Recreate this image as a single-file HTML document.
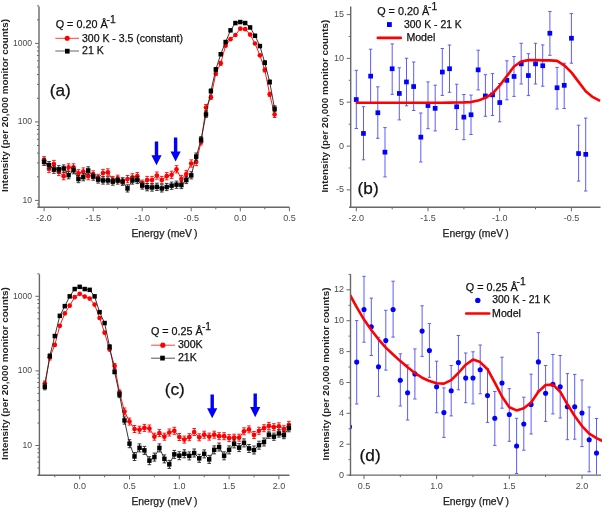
<!DOCTYPE html><html><head><meta charset="utf-8"><style>html,body{margin:0;padding:0;background:#fff;}svg{display:block;will-change:transform;}text{font-family:"Liberation Sans", sans-serif;}</style></head><body>
<svg width="602" height="508" viewBox="0 0 602 508">
<rect width="602" height="508" fill="#fff"/>
<path d="M39,6.5 V208" fill="none" stroke="#686868" stroke-width="1.4"/>
<path d="M37.4,207.3 H289.5" fill="none" stroke="#686868" stroke-width="1.4"/>
<line x1="37" y1="204" x2="39" y2="204" stroke="#686868" stroke-width="1"/>
<line x1="35" y1="200.4" x2="39" y2="200.4" stroke="#686868" stroke-width="1"/>
<line x1="37" y1="176.8" x2="39" y2="176.8" stroke="#686868" stroke-width="1"/>
<line x1="37" y1="162.9" x2="39" y2="162.9" stroke="#686868" stroke-width="1"/>
<line x1="37" y1="153.1" x2="39" y2="153.1" stroke="#686868" stroke-width="1"/>
<line x1="37" y1="145.5" x2="39" y2="145.5" stroke="#686868" stroke-width="1"/>
<line x1="37" y1="139.3" x2="39" y2="139.3" stroke="#686868" stroke-width="1"/>
<line x1="37" y1="134.1" x2="39" y2="134.1" stroke="#686868" stroke-width="1"/>
<line x1="37" y1="129.5" x2="39" y2="129.5" stroke="#686868" stroke-width="1"/>
<line x1="37" y1="125.5" x2="39" y2="125.5" stroke="#686868" stroke-width="1"/>
<line x1="35" y1="121.9" x2="39" y2="121.9" stroke="#686868" stroke-width="1"/>
<line x1="37" y1="98.3" x2="39" y2="98.3" stroke="#686868" stroke-width="1"/>
<line x1="37" y1="84.4" x2="39" y2="84.4" stroke="#686868" stroke-width="1"/>
<line x1="37" y1="74.6" x2="39" y2="74.6" stroke="#686868" stroke-width="1"/>
<line x1="37" y1="67" x2="39" y2="67" stroke="#686868" stroke-width="1"/>
<line x1="37" y1="60.8" x2="39" y2="60.8" stroke="#686868" stroke-width="1"/>
<line x1="37" y1="55.6" x2="39" y2="55.6" stroke="#686868" stroke-width="1"/>
<line x1="37" y1="51" x2="39" y2="51" stroke="#686868" stroke-width="1"/>
<line x1="37" y1="47" x2="39" y2="47" stroke="#686868" stroke-width="1"/>
<line x1="35" y1="43.4" x2="39" y2="43.4" stroke="#686868" stroke-width="1"/>
<line x1="37" y1="19.8" x2="39" y2="19.8" stroke="#686868" stroke-width="1"/>
<line x1="37" y1="5.9" x2="39" y2="5.9" stroke="#686868" stroke-width="1"/>
<line x1="44.1" y1="207.3" x2="44.1" y2="211.3" stroke="#686868" stroke-width="1"/>
<line x1="68.6" y1="207.3" x2="68.6" y2="209.3" stroke="#686868" stroke-width="1"/>
<line x1="93.2" y1="207.3" x2="93.2" y2="211.3" stroke="#686868" stroke-width="1"/>
<line x1="117.7" y1="207.3" x2="117.7" y2="209.3" stroke="#686868" stroke-width="1"/>
<line x1="142.2" y1="207.3" x2="142.2" y2="211.3" stroke="#686868" stroke-width="1"/>
<line x1="166.7" y1="207.3" x2="166.7" y2="209.3" stroke="#686868" stroke-width="1"/>
<line x1="191.2" y1="207.3" x2="191.2" y2="211.3" stroke="#686868" stroke-width="1"/>
<line x1="215.8" y1="207.3" x2="215.8" y2="209.3" stroke="#686868" stroke-width="1"/>
<line x1="240.3" y1="207.3" x2="240.3" y2="211.3" stroke="#686868" stroke-width="1"/>
<line x1="264.8" y1="207.3" x2="264.8" y2="209.3" stroke="#686868" stroke-width="1"/>
<line x1="289.4" y1="207.3" x2="289.4" y2="211.3" stroke="#686868" stroke-width="1"/>
<text x="32" y="202.6" font-size="8.6" text-anchor="end" fill="#4a4a4a" font-weight="normal" >10</text>
<text x="32" y="124.1" font-size="8.6" text-anchor="end" fill="#4a4a4a" font-weight="normal" >100</text>
<text x="32" y="45.6" font-size="8.6" text-anchor="end" fill="#4a4a4a" font-weight="normal" >1000</text>
<text x="44.1" y="221" font-size="9" text-anchor="middle" fill="#4a4a4a" font-weight="normal" >-2.0</text>
<text x="93.2" y="221" font-size="9" text-anchor="middle" fill="#4a4a4a" font-weight="normal" >-1.5</text>
<text x="142.2" y="221" font-size="9" text-anchor="middle" fill="#4a4a4a" font-weight="normal" >-1.0</text>
<text x="191.2" y="221" font-size="9" text-anchor="middle" fill="#4a4a4a" font-weight="normal" >-0.5</text>
<text x="240.3" y="221" font-size="9" text-anchor="middle" fill="#4a4a4a" font-weight="normal" >0.0</text>
<text x="289.4" y="221" font-size="9" text-anchor="middle" fill="#4a4a4a" font-weight="normal" >0.5</text>
<text x="164.5" y="237" font-size="10.4" text-anchor="middle" fill="#222" font-weight="normal" stroke="#222" stroke-width="0.25" >Energy (meV&#8201;)</text>
<text x="0" y="0" font-size="9.9" text-anchor="middle" fill="#222" font-weight="bold" transform="translate(8.3,105.5) rotate(-90)">Intensity (per 20,000 monitor counts)</text>
<polyline points="44.1,160.2 49,169 53.9,164 58.8,172 63.7,176.2 68.6,167.4 73.5,167.4 78.4,173.3 83.3,171.5 88.2,176.2 93.2,174.4 98.1,177.9 103,173 107.9,172.4 112.8,180 117.7,178.8 122.6,181.4 127.5,179.1 132.4,177.3 137.3,176.2 142.2,183.7 147.1,180 152,180 156.9,175.6 161.8,180 166.7,176.2 171.6,174.8 176.5,169.3 181.4,179 186.3,174 191.2,163.5 196.2,162 201.1,142 206,107.5 210.9,97.3 215.8,73.5 220.7,63.3 225.6,45.7 230.5,39.2 235.4,35 240.3,28.7 245.2,29.2 250.1,34.6 255,43.5 259.9,55.3 264.8,70 269.7,94.3 274.6,114.5" fill="none" stroke="#ff0000" stroke-width="0.9"/>
<path d="M44.1,156.6 V163.8 M42.3,156.6 H45.9 M42.3,163.8 H45.9" stroke="#ff0000" stroke-width="0.9" fill="none"/>
<path d="M49,165.4 V172.6 M47.2,165.4 H50.8 M47.2,172.6 H50.8" stroke="#ff0000" stroke-width="0.9" fill="none"/>
<path d="M53.9,160.4 V167.6 M52.1,160.4 H55.7 M52.1,167.6 H55.7" stroke="#ff0000" stroke-width="0.9" fill="none"/>
<path d="M58.8,168.4 V175.6 M57,168.4 H60.6 M57,175.6 H60.6" stroke="#ff0000" stroke-width="0.9" fill="none"/>
<path d="M63.7,172.6 V179.8 M61.9,172.6 H65.5 M61.9,179.8 H65.5" stroke="#ff0000" stroke-width="0.9" fill="none"/>
<path d="M68.6,163.8 V171 M66.8,163.8 H70.4 M66.8,171 H70.4" stroke="#ff0000" stroke-width="0.9" fill="none"/>
<path d="M73.5,163.8 V171 M71.7,163.8 H75.3 M71.7,171 H75.3" stroke="#ff0000" stroke-width="0.9" fill="none"/>
<path d="M78.4,169.7 V176.9 M76.6,169.7 H80.2 M76.6,176.9 H80.2" stroke="#ff0000" stroke-width="0.9" fill="none"/>
<path d="M83.3,167.9 V175.1 M81.5,167.9 H85.1 M81.5,175.1 H85.1" stroke="#ff0000" stroke-width="0.9" fill="none"/>
<path d="M88.2,172.6 V179.8 M86.4,172.6 H90 M86.4,179.8 H90" stroke="#ff0000" stroke-width="0.9" fill="none"/>
<path d="M93.2,170.8 V178 M91.4,170.8 H95 M91.4,178 H95" stroke="#ff0000" stroke-width="0.9" fill="none"/>
<path d="M98.1,174.3 V181.5 M96.3,174.3 H99.9 M96.3,181.5 H99.9" stroke="#ff0000" stroke-width="0.9" fill="none"/>
<path d="M103,169.4 V176.6 M101.2,169.4 H104.8 M101.2,176.6 H104.8" stroke="#ff0000" stroke-width="0.9" fill="none"/>
<path d="M107.9,168.8 V176 M106.1,168.8 H109.7 M106.1,176 H109.7" stroke="#ff0000" stroke-width="0.9" fill="none"/>
<path d="M112.8,176.4 V183.6 M111,176.4 H114.6 M111,183.6 H114.6" stroke="#ff0000" stroke-width="0.9" fill="none"/>
<path d="M117.7,175.2 V182.4 M115.9,175.2 H119.5 M115.9,182.4 H119.5" stroke="#ff0000" stroke-width="0.9" fill="none"/>
<path d="M122.6,177.8 V185 M120.8,177.8 H124.4 M120.8,185 H124.4" stroke="#ff0000" stroke-width="0.9" fill="none"/>
<path d="M127.5,175.5 V182.7 M125.7,175.5 H129.3 M125.7,182.7 H129.3" stroke="#ff0000" stroke-width="0.9" fill="none"/>
<path d="M132.4,173.7 V180.9 M130.6,173.7 H134.2 M130.6,180.9 H134.2" stroke="#ff0000" stroke-width="0.9" fill="none"/>
<path d="M137.3,172.6 V179.8 M135.5,172.6 H139.1 M135.5,179.8 H139.1" stroke="#ff0000" stroke-width="0.9" fill="none"/>
<path d="M142.2,180.1 V187.3 M140.4,180.1 H144 M140.4,187.3 H144" stroke="#ff0000" stroke-width="0.9" fill="none"/>
<path d="M147.1,176.4 V183.6 M145.3,176.4 H148.9 M145.3,183.6 H148.9" stroke="#ff0000" stroke-width="0.9" fill="none"/>
<path d="M152,176.4 V183.6 M150.2,176.4 H153.8 M150.2,183.6 H153.8" stroke="#ff0000" stroke-width="0.9" fill="none"/>
<path d="M156.9,172 V179.2 M155.1,172 H158.7 M155.1,179.2 H158.7" stroke="#ff0000" stroke-width="0.9" fill="none"/>
<path d="M161.8,176.4 V183.6 M160,176.4 H163.6 M160,183.6 H163.6" stroke="#ff0000" stroke-width="0.9" fill="none"/>
<path d="M166.7,172.6 V179.8 M164.9,172.6 H168.5 M164.9,179.8 H168.5" stroke="#ff0000" stroke-width="0.9" fill="none"/>
<path d="M171.6,171.2 V178.4 M169.8,171.2 H173.4 M169.8,178.4 H173.4" stroke="#ff0000" stroke-width="0.9" fill="none"/>
<path d="M176.5,165.7 V172.9 M174.7,165.7 H178.3 M174.7,172.9 H178.3" stroke="#ff0000" stroke-width="0.9" fill="none"/>
<path d="M181.4,175.4 V182.6 M179.6,175.4 H183.2 M179.6,182.6 H183.2" stroke="#ff0000" stroke-width="0.9" fill="none"/>
<path d="M186.3,170.4 V177.6 M184.5,170.4 H188.1 M184.5,177.6 H188.1" stroke="#ff0000" stroke-width="0.9" fill="none"/>
<path d="M191.2,159.9 V167.1 M189.4,159.9 H193.1 M189.4,167.1 H193.1" stroke="#ff0000" stroke-width="0.9" fill="none"/>
<path d="M196.2,158.4 V165.6 M194.4,158.4 H198 M194.4,165.6 H198" stroke="#ff0000" stroke-width="0.9" fill="none"/>
<path d="M201.1,139 V145 M199.3,139 H202.9 M199.3,145 H202.9" stroke="#ff0000" stroke-width="0.9" fill="none"/>
<path d="M206,104.5 V110.5 M204.2,104.5 H207.8 M204.2,110.5 H207.8" stroke="#ff0000" stroke-width="0.9" fill="none"/>
<path d="M210.9,95.3 V99.3 M209.1,95.3 H212.7 M209.1,99.3 H212.7" stroke="#ff0000" stroke-width="0.9" fill="none"/>
<path d="M215.8,71.5 V75.5 M214,71.5 H217.6 M214,75.5 H217.6" stroke="#ff0000" stroke-width="0.9" fill="none"/>
<path d="M220.7,61.3 V65.3 M218.9,61.3 H222.5 M218.9,65.3 H222.5" stroke="#ff0000" stroke-width="0.9" fill="none"/>
<path d="M264.8,68 V72 M263,68 H266.6 M263,72 H266.6" stroke="#ff0000" stroke-width="0.9" fill="none"/>
<path d="M269.7,92.3 V96.3 M267.9,92.3 H271.5 M267.9,96.3 H271.5" stroke="#ff0000" stroke-width="0.9" fill="none"/>
<path d="M274.6,111.5 V117.5 M272.8,111.5 H276.4 M272.8,117.5 H276.4" stroke="#ff0000" stroke-width="0.9" fill="none"/>
<circle cx="44.1" cy="160.2" r="2.35" fill="#ff0000"/>
<circle cx="49" cy="169" r="2.35" fill="#ff0000"/>
<circle cx="53.9" cy="164" r="2.35" fill="#ff0000"/>
<circle cx="58.8" cy="172" r="2.35" fill="#ff0000"/>
<circle cx="63.7" cy="176.2" r="2.35" fill="#ff0000"/>
<circle cx="68.6" cy="167.4" r="2.35" fill="#ff0000"/>
<circle cx="73.5" cy="167.4" r="2.35" fill="#ff0000"/>
<circle cx="78.4" cy="173.3" r="2.35" fill="#ff0000"/>
<circle cx="83.3" cy="171.5" r="2.35" fill="#ff0000"/>
<circle cx="88.2" cy="176.2" r="2.35" fill="#ff0000"/>
<circle cx="93.2" cy="174.4" r="2.35" fill="#ff0000"/>
<circle cx="98.1" cy="177.9" r="2.35" fill="#ff0000"/>
<circle cx="103" cy="173" r="2.35" fill="#ff0000"/>
<circle cx="107.9" cy="172.4" r="2.35" fill="#ff0000"/>
<circle cx="112.8" cy="180" r="2.35" fill="#ff0000"/>
<circle cx="117.7" cy="178.8" r="2.35" fill="#ff0000"/>
<circle cx="122.6" cy="181.4" r="2.35" fill="#ff0000"/>
<circle cx="127.5" cy="179.1" r="2.35" fill="#ff0000"/>
<circle cx="132.4" cy="177.3" r="2.35" fill="#ff0000"/>
<circle cx="137.3" cy="176.2" r="2.35" fill="#ff0000"/>
<circle cx="142.2" cy="183.7" r="2.35" fill="#ff0000"/>
<circle cx="147.1" cy="180" r="2.35" fill="#ff0000"/>
<circle cx="152" cy="180" r="2.35" fill="#ff0000"/>
<circle cx="156.9" cy="175.6" r="2.35" fill="#ff0000"/>
<circle cx="161.8" cy="180" r="2.35" fill="#ff0000"/>
<circle cx="166.7" cy="176.2" r="2.35" fill="#ff0000"/>
<circle cx="171.6" cy="174.8" r="2.35" fill="#ff0000"/>
<circle cx="176.5" cy="169.3" r="2.35" fill="#ff0000"/>
<circle cx="181.4" cy="179" r="2.35" fill="#ff0000"/>
<circle cx="186.3" cy="174" r="2.35" fill="#ff0000"/>
<circle cx="191.2" cy="163.5" r="2.35" fill="#ff0000"/>
<circle cx="196.2" cy="162" r="2.35" fill="#ff0000"/>
<circle cx="201.1" cy="142" r="2.35" fill="#ff0000"/>
<circle cx="206" cy="107.5" r="2.35" fill="#ff0000"/>
<circle cx="210.9" cy="97.3" r="2.35" fill="#ff0000"/>
<circle cx="215.8" cy="73.5" r="2.35" fill="#ff0000"/>
<circle cx="220.7" cy="63.3" r="2.35" fill="#ff0000"/>
<circle cx="225.6" cy="45.7" r="2.35" fill="#ff0000"/>
<circle cx="230.5" cy="39.2" r="2.35" fill="#ff0000"/>
<circle cx="235.4" cy="35" r="2.35" fill="#ff0000"/>
<circle cx="240.3" cy="28.7" r="2.35" fill="#ff0000"/>
<circle cx="245.2" cy="29.2" r="2.35" fill="#ff0000"/>
<circle cx="250.1" cy="34.6" r="2.35" fill="#ff0000"/>
<circle cx="255" cy="43.5" r="2.35" fill="#ff0000"/>
<circle cx="259.9" cy="55.3" r="2.35" fill="#ff0000"/>
<circle cx="264.8" cy="70" r="2.35" fill="#ff0000"/>
<circle cx="269.7" cy="94.3" r="2.35" fill="#ff0000"/>
<circle cx="274.6" cy="114.5" r="2.35" fill="#ff0000"/>
<polyline points="44.1,161.8 49,165.1 53.9,169.7 58.8,169.3 63.7,168.5 68.6,175.2 73.5,170.2 78.4,179.1 83.3,177.2 88.2,170.4 93.2,176.6 98.1,179.5 103,180.5 107.9,180.5 112.8,181.6 117.7,180.5 122.6,181.6 127.5,188.4 132.4,180.5 137.3,180 142.2,185.5 147.1,187.2 152,187.5 156.9,186.8 161.8,188.4 166.7,187 171.6,185.7 176.5,184.7 181.4,185 186.3,180 191.2,175.3 196.2,156.6 201.1,139.6 206,114.4 210.9,91 215.8,69.5 220.7,54.3 225.6,42 230.5,30.4 235.4,23 240.3,22 245.2,23 250.1,27.5 255,35.7 259.9,46 264.8,62.7 269.7,82 274.6,108.8" fill="none" stroke="#222" stroke-width="0.9"/>
<path d="M44.1,158.2 V165.4 M42.3,158.2 H45.9 M42.3,165.4 H45.9" stroke="#222" stroke-width="0.9" fill="none"/>
<path d="M49,161.5 V168.7 M47.2,161.5 H50.8 M47.2,168.7 H50.8" stroke="#222" stroke-width="0.9" fill="none"/>
<path d="M53.9,166.1 V173.3 M52.1,166.1 H55.7 M52.1,173.3 H55.7" stroke="#222" stroke-width="0.9" fill="none"/>
<path d="M58.8,165.7 V172.9 M57,165.7 H60.6 M57,172.9 H60.6" stroke="#222" stroke-width="0.9" fill="none"/>
<path d="M63.7,164.9 V172.1 M61.9,164.9 H65.5 M61.9,172.1 H65.5" stroke="#222" stroke-width="0.9" fill="none"/>
<path d="M68.6,171.6 V178.8 M66.8,171.6 H70.4 M66.8,178.8 H70.4" stroke="#222" stroke-width="0.9" fill="none"/>
<path d="M73.5,166.6 V173.8 M71.7,166.6 H75.3 M71.7,173.8 H75.3" stroke="#222" stroke-width="0.9" fill="none"/>
<path d="M78.4,175.5 V182.7 M76.6,175.5 H80.2 M76.6,182.7 H80.2" stroke="#222" stroke-width="0.9" fill="none"/>
<path d="M83.3,173.6 V180.8 M81.5,173.6 H85.1 M81.5,180.8 H85.1" stroke="#222" stroke-width="0.9" fill="none"/>
<path d="M88.2,166.8 V174 M86.4,166.8 H90 M86.4,174 H90" stroke="#222" stroke-width="0.9" fill="none"/>
<path d="M93.2,173 V180.2 M91.4,173 H95 M91.4,180.2 H95" stroke="#222" stroke-width="0.9" fill="none"/>
<path d="M98.1,175.9 V183.1 M96.3,175.9 H99.9 M96.3,183.1 H99.9" stroke="#222" stroke-width="0.9" fill="none"/>
<path d="M103,176.9 V184.1 M101.2,176.9 H104.8 M101.2,184.1 H104.8" stroke="#222" stroke-width="0.9" fill="none"/>
<path d="M107.9,176.9 V184.1 M106.1,176.9 H109.7 M106.1,184.1 H109.7" stroke="#222" stroke-width="0.9" fill="none"/>
<path d="M112.8,178 V185.2 M111,178 H114.6 M111,185.2 H114.6" stroke="#222" stroke-width="0.9" fill="none"/>
<path d="M117.7,176.9 V184.1 M115.9,176.9 H119.5 M115.9,184.1 H119.5" stroke="#222" stroke-width="0.9" fill="none"/>
<path d="M122.6,178 V185.2 M120.8,178 H124.4 M120.8,185.2 H124.4" stroke="#222" stroke-width="0.9" fill="none"/>
<path d="M127.5,184.8 V192 M125.7,184.8 H129.3 M125.7,192 H129.3" stroke="#222" stroke-width="0.9" fill="none"/>
<path d="M132.4,176.9 V184.1 M130.6,176.9 H134.2 M130.6,184.1 H134.2" stroke="#222" stroke-width="0.9" fill="none"/>
<path d="M137.3,176.4 V183.6 M135.5,176.4 H139.1 M135.5,183.6 H139.1" stroke="#222" stroke-width="0.9" fill="none"/>
<path d="M142.2,181.9 V189.1 M140.4,181.9 H144 M140.4,189.1 H144" stroke="#222" stroke-width="0.9" fill="none"/>
<path d="M147.1,183.6 V190.8 M145.3,183.6 H148.9 M145.3,190.8 H148.9" stroke="#222" stroke-width="0.9" fill="none"/>
<path d="M152,183.9 V191.1 M150.2,183.9 H153.8 M150.2,191.1 H153.8" stroke="#222" stroke-width="0.9" fill="none"/>
<path d="M156.9,183.2 V190.4 M155.1,183.2 H158.7 M155.1,190.4 H158.7" stroke="#222" stroke-width="0.9" fill="none"/>
<path d="M161.8,184.8 V192 M160,184.8 H163.6 M160,192 H163.6" stroke="#222" stroke-width="0.9" fill="none"/>
<path d="M166.7,183.4 V190.6 M164.9,183.4 H168.5 M164.9,190.6 H168.5" stroke="#222" stroke-width="0.9" fill="none"/>
<path d="M171.6,182.1 V189.3 M169.8,182.1 H173.4 M169.8,189.3 H173.4" stroke="#222" stroke-width="0.9" fill="none"/>
<path d="M176.5,181.1 V188.3 M174.7,181.1 H178.3 M174.7,188.3 H178.3" stroke="#222" stroke-width="0.9" fill="none"/>
<path d="M181.4,181.4 V188.6 M179.6,181.4 H183.2 M179.6,188.6 H183.2" stroke="#222" stroke-width="0.9" fill="none"/>
<path d="M186.3,176.4 V183.6 M184.5,176.4 H188.1 M184.5,183.6 H188.1" stroke="#222" stroke-width="0.9" fill="none"/>
<path d="M191.2,171.7 V178.9 M189.4,171.7 H193.1 M189.4,178.9 H193.1" stroke="#222" stroke-width="0.9" fill="none"/>
<path d="M196.2,153 V160.2 M194.4,153 H198 M194.4,160.2 H198" stroke="#222" stroke-width="0.9" fill="none"/>
<path d="M201.1,136.6 V142.6 M199.3,136.6 H202.9 M199.3,142.6 H202.9" stroke="#222" stroke-width="0.9" fill="none"/>
<path d="M206,111.4 V117.4 M204.2,111.4 H207.8 M204.2,117.4 H207.8" stroke="#222" stroke-width="0.9" fill="none"/>
<path d="M210.9,89 V93 M209.1,89 H212.7 M209.1,93 H212.7" stroke="#222" stroke-width="0.9" fill="none"/>
<path d="M215.8,67.5 V71.5 M214,67.5 H217.6 M214,71.5 H217.6" stroke="#222" stroke-width="0.9" fill="none"/>
<path d="M264.8,60.7 V64.7 M263,60.7 H266.6 M263,64.7 H266.6" stroke="#222" stroke-width="0.9" fill="none"/>
<path d="M269.7,80 V84 M267.9,80 H271.5 M267.9,84 H271.5" stroke="#222" stroke-width="0.9" fill="none"/>
<path d="M274.6,105.8 V111.8 M272.8,105.8 H276.4 M272.8,111.8 H276.4" stroke="#222" stroke-width="0.9" fill="none"/>
<rect x="41.9" y="159.6" width="4.4" height="4.5" fill="#000"/>
<rect x="46.8" y="162.8" width="4.4" height="4.5" fill="#000"/>
<rect x="51.7" y="167.4" width="4.4" height="4.5" fill="#000"/>
<rect x="56.6" y="167.1" width="4.4" height="4.5" fill="#000"/>
<rect x="61.5" y="166.2" width="4.4" height="4.5" fill="#000"/>
<rect x="66.4" y="172.9" width="4.4" height="4.5" fill="#000"/>
<rect x="71.3" y="167.9" width="4.4" height="4.5" fill="#000"/>
<rect x="76.2" y="176.8" width="4.4" height="4.5" fill="#000"/>
<rect x="81.1" y="174.9" width="4.4" height="4.5" fill="#000"/>
<rect x="86" y="168.2" width="4.4" height="4.5" fill="#000"/>
<rect x="91" y="174.3" width="4.4" height="4.5" fill="#000"/>
<rect x="95.9" y="177.2" width="4.4" height="4.5" fill="#000"/>
<rect x="100.8" y="178.2" width="4.4" height="4.5" fill="#000"/>
<rect x="105.7" y="178.2" width="4.4" height="4.5" fill="#000"/>
<rect x="110.6" y="179.3" width="4.4" height="4.5" fill="#000"/>
<rect x="115.5" y="178.2" width="4.4" height="4.5" fill="#000"/>
<rect x="120.4" y="179.3" width="4.4" height="4.5" fill="#000"/>
<rect x="125.3" y="186.2" width="4.4" height="4.5" fill="#000"/>
<rect x="130.2" y="178.2" width="4.4" height="4.5" fill="#000"/>
<rect x="135.1" y="177.8" width="4.4" height="4.5" fill="#000"/>
<rect x="140" y="183.2" width="4.4" height="4.5" fill="#000"/>
<rect x="144.9" y="184.9" width="4.4" height="4.5" fill="#000"/>
<rect x="149.8" y="185.2" width="4.4" height="4.5" fill="#000"/>
<rect x="154.7" y="184.6" width="4.4" height="4.5" fill="#000"/>
<rect x="159.6" y="186.2" width="4.4" height="4.5" fill="#000"/>
<rect x="164.5" y="184.8" width="4.4" height="4.5" fill="#000"/>
<rect x="169.4" y="183.4" width="4.4" height="4.5" fill="#000"/>
<rect x="174.3" y="182.4" width="4.4" height="4.5" fill="#000"/>
<rect x="179.2" y="182.8" width="4.4" height="4.5" fill="#000"/>
<rect x="184.1" y="177.8" width="4.4" height="4.5" fill="#000"/>
<rect x="189.1" y="173.1" width="4.4" height="4.5" fill="#000"/>
<rect x="194" y="154.3" width="4.4" height="4.5" fill="#000"/>
<rect x="198.9" y="137.3" width="4.4" height="4.5" fill="#000"/>
<rect x="203.8" y="112.2" width="4.4" height="4.5" fill="#000"/>
<rect x="208.7" y="88.8" width="4.4" height="4.5" fill="#000"/>
<rect x="213.6" y="67.2" width="4.4" height="4.5" fill="#000"/>
<rect x="218.5" y="52" width="4.4" height="4.5" fill="#000"/>
<rect x="223.4" y="39.8" width="4.4" height="4.5" fill="#000"/>
<rect x="228.3" y="28.1" width="4.4" height="4.5" fill="#000"/>
<rect x="233.2" y="20.8" width="4.4" height="4.5" fill="#000"/>
<rect x="238.1" y="19.8" width="4.4" height="4.5" fill="#000"/>
<rect x="243" y="20.8" width="4.4" height="4.5" fill="#000"/>
<rect x="247.9" y="25.2" width="4.4" height="4.5" fill="#000"/>
<rect x="252.8" y="33.5" width="4.4" height="4.5" fill="#000"/>
<rect x="257.7" y="43.8" width="4.4" height="4.5" fill="#000"/>
<rect x="262.6" y="60.5" width="4.4" height="4.5" fill="#000"/>
<rect x="267.5" y="79.8" width="4.4" height="4.5" fill="#000"/>
<rect x="272.4" y="106.5" width="4.4" height="4.5" fill="#000"/>
<text x="55.7" y="28.2" font-size="10.8" text-anchor="start" fill="#111" font-weight="normal" stroke="#111" stroke-width="0.25" >Q = 0.20 &#197;</text>
<text x="106.6" y="23.1" font-size="10.3" text-anchor="start" fill="#111" font-weight="normal" stroke="#111" stroke-width="0.25" >-1</text>
<line x1="55.3" y1="38.3" x2="79" y2="38.3" stroke="#ff4040" stroke-width="1"/><circle cx="67.2" cy="38.3" r="2.55" fill="#ff0000"/>
<text x="82" y="41.5" font-size="10.5" text-anchor="start" fill="#111" font-weight="normal" stroke="#111" stroke-width="0.25" >300 K - 3.5 (constant)</text>
<line x1="55.3" y1="51" x2="79" y2="51" stroke="#666" stroke-width="1"/><rect x="65" y="48.8" width="4.6" height="4.8" fill="#000"/>
<text x="82" y="54.4" font-size="10.6" text-anchor="start" fill="#111" font-weight="normal" stroke="#111" stroke-width="0.25" >21 K</text>
<text x="49.8" y="95.6" font-size="17.2" text-anchor="start" fill="#111" font-weight="normal" stroke="#111" stroke-width="0.25" >(a)</text>
<path d="M154.8,141.6 H158.2 V155.3 H161.6 L156.5,165.2 L151.4,155.3 H154.8 V155.3 Z" fill="#0000ff"/>
<path d="M173.9,137.5 H177.3 V151.4 H180.7 L175.6,161.5 L170.5,151.4 H173.9 V151.4 Z" fill="#0000ff"/>
<path d="M350.7,6.6 V208" fill="none" stroke="#686868" stroke-width="1.4"/>
<path d="M349.1,207.3 H600.5" fill="none" stroke="#686868" stroke-width="1.4"/>
<line x1="346.7" y1="189.9" x2="350.7" y2="189.9" stroke="#686868" stroke-width="1"/>
<line x1="348.7" y1="168" x2="350.7" y2="168" stroke="#686868" stroke-width="1"/>
<line x1="346.7" y1="146.1" x2="350.7" y2="146.1" stroke="#686868" stroke-width="1"/>
<line x1="348.7" y1="124.2" x2="350.7" y2="124.2" stroke="#686868" stroke-width="1"/>
<line x1="346.7" y1="102.2" x2="350.7" y2="102.2" stroke="#686868" stroke-width="1"/>
<line x1="348.7" y1="80.3" x2="350.7" y2="80.3" stroke="#686868" stroke-width="1"/>
<line x1="346.7" y1="58.4" x2="350.7" y2="58.4" stroke="#686868" stroke-width="1"/>
<line x1="348.7" y1="36.5" x2="350.7" y2="36.5" stroke="#686868" stroke-width="1"/>
<line x1="346.7" y1="14.6" x2="350.7" y2="14.6" stroke="#686868" stroke-width="1"/>
<line x1="356.3" y1="207.3" x2="356.3" y2="211.3" stroke="#686868" stroke-width="1"/>
<line x1="392.2" y1="207.3" x2="392.2" y2="209.3" stroke="#686868" stroke-width="1"/>
<line x1="428" y1="207.3" x2="428" y2="211.3" stroke="#686868" stroke-width="1"/>
<line x1="463.9" y1="207.3" x2="463.9" y2="209.3" stroke="#686868" stroke-width="1"/>
<line x1="499.7" y1="207.3" x2="499.7" y2="211.3" stroke="#686868" stroke-width="1"/>
<line x1="535.5" y1="207.3" x2="535.5" y2="209.3" stroke="#686868" stroke-width="1"/>
<line x1="571.4" y1="207.3" x2="571.4" y2="211.3" stroke="#686868" stroke-width="1"/>
<text x="344" y="17.1" font-size="9" text-anchor="end" fill="#4a4a4a" font-weight="normal" >15</text>
<text x="344" y="60.9" font-size="9" text-anchor="end" fill="#4a4a4a" font-weight="normal" >10</text>
<text x="344" y="104.8" font-size="9" text-anchor="end" fill="#4a4a4a" font-weight="normal" >5</text>
<text x="344" y="148.6" font-size="9" text-anchor="end" fill="#4a4a4a" font-weight="normal" >0</text>
<text x="344" y="192.4" font-size="9" text-anchor="end" fill="#4a4a4a" font-weight="normal" >-5</text>
<text x="356.3" y="221" font-size="9" text-anchor="middle" fill="#4a4a4a" font-weight="normal" >-2.0</text>
<text x="428" y="221" font-size="9" text-anchor="middle" fill="#4a4a4a" font-weight="normal" >-1.5</text>
<text x="499.7" y="221" font-size="9" text-anchor="middle" fill="#4a4a4a" font-weight="normal" >-1.0</text>
<text x="571.4" y="221" font-size="9" text-anchor="middle" fill="#4a4a4a" font-weight="normal" >-0.5</text>
<text x="475.7" y="237" font-size="10.4" text-anchor="middle" fill="#222" font-weight="normal" stroke="#222" stroke-width="0.25" >Energy (meV&#8201;)</text>
<text x="0" y="0" font-size="9.9" text-anchor="middle" fill="#222" font-weight="bold" transform="translate(328.2,106.2) rotate(-90)">Intensity (per 20,000 monitor counts)</text>
<path d="M356.3,70.3 V128.5 M354.6,70.3 H358 M354.6,128.5 H358" stroke="#5c5cff" stroke-width="1" fill="none"/>
<path d="M363.5,106.7 V159.8 M361.8,106.7 H365.2 M361.8,159.8 H365.2" stroke="#5c5cff" stroke-width="1" fill="none"/>
<path d="M370.6,49.2 V102.8 M368.9,49.2 H372.3 M368.9,102.8 H372.3" stroke="#5c5cff" stroke-width="1" fill="none"/>
<path d="M377.8,86.8 V138.3 M376.1,86.8 H379.5 M376.1,138.3 H379.5" stroke="#5c5cff" stroke-width="1" fill="none"/>
<path d="M385,127.6 V176.9 M383.3,127.6 H386.7 M383.3,176.9 H386.7" stroke="#5c5cff" stroke-width="1" fill="none"/>
<path d="M392.2,43.9 V94.3 M390.5,43.9 H393.9 M390.5,94.3 H393.9" stroke="#5c5cff" stroke-width="1" fill="none"/>
<path d="M399.3,67.8 V119.9 M397.6,67.8 H401 M397.6,119.9 H401" stroke="#5c5cff" stroke-width="1" fill="none"/>
<path d="M406.5,58.2 V105.8 M404.8,58.2 H408.2 M404.8,105.8 H408.2" stroke="#5c5cff" stroke-width="1" fill="none"/>
<path d="M413.7,62 V110.5 M412,62 H415.4 M412,110.5 H415.4" stroke="#5c5cff" stroke-width="1" fill="none"/>
<path d="M420.8,113 V162 M419.1,113 H422.5 M419.1,162 H422.5" stroke="#5c5cff" stroke-width="1" fill="none"/>
<path d="M428,81.9 V128.7 M426.3,81.9 H429.7 M426.3,128.7 H429.7" stroke="#5c5cff" stroke-width="1" fill="none"/>
<path d="M435.2,85.2 V130.9 M433.5,85.2 H436.9 M433.5,130.9 H436.9" stroke="#5c5cff" stroke-width="1" fill="none"/>
<path d="M442.3,48.5 V95.4 M440.6,48.5 H444 M440.6,95.4 H444" stroke="#5c5cff" stroke-width="1" fill="none"/>
<path d="M449.5,45 V92.3 M447.8,45 H451.2 M447.8,92.3 H451.2" stroke="#5c5cff" stroke-width="1" fill="none"/>
<path d="M456.7,84.2 V129.5 M455,84.2 H458.4 M455,129.5 H458.4" stroke="#5c5cff" stroke-width="1" fill="none"/>
<path d="M463.9,94.5 V139.7 M462.2,94.5 H465.6 M462.2,139.7 H465.6" stroke="#5c5cff" stroke-width="1" fill="none"/>
<path d="M471,95.1 V134.5 M469.3,95.1 H472.7 M469.3,134.5 H472.7" stroke="#5c5cff" stroke-width="1" fill="none"/>
<path d="M478.2,50.2 V89.9 M476.5,50.2 H479.9 M476.5,89.9 H479.9" stroke="#5c5cff" stroke-width="1" fill="none"/>
<path d="M485.4,74.7 V116.3 M483.7,74.7 H487.1 M483.7,116.3 H487.1" stroke="#5c5cff" stroke-width="1" fill="none"/>
<path d="M492.5,73.6 V115.5 M490.8,73.6 H494.2 M490.8,115.5 H494.2" stroke="#5c5cff" stroke-width="1" fill="none"/>
<path d="M499.7,83.5 V121.8 M498,83.5 H501.4 M498,121.8 H501.4" stroke="#5c5cff" stroke-width="1" fill="none"/>
<path d="M506.9,60.8 V99.8 M505.2,60.8 H508.6 M505.2,99.8 H508.6" stroke="#5c5cff" stroke-width="1" fill="none"/>
<path d="M514,56.5 V96.4 M512.3,56.5 H515.7 M512.3,96.4 H515.7" stroke="#5c5cff" stroke-width="1" fill="none"/>
<path d="M521.2,43.3 V84 M519.5,43.3 H522.9 M519.5,84 H522.9" stroke="#5c5cff" stroke-width="1" fill="none"/>
<path d="M528.4,53.7 V95.6 M526.7,53.7 H530.1 M526.7,95.6 H530.1" stroke="#5c5cff" stroke-width="1" fill="none"/>
<path d="M535.5,43.3 V84 M533.8,43.3 H537.2 M533.8,84 H537.2" stroke="#5c5cff" stroke-width="1" fill="none"/>
<path d="M542.7,44.9 V86.2 M541,44.9 H544.4 M541,86.2 H544.4" stroke="#5c5cff" stroke-width="1" fill="none"/>
<path d="M549.9,11.5 V55.3 M548.2,11.5 H551.6 M548.2,55.3 H551.6" stroke="#5c5cff" stroke-width="1" fill="none"/>
<path d="M557.1,67.4 V109 M555.4,67.4 H558.8 M555.4,109 H558.8" stroke="#5c5cff" stroke-width="1" fill="none"/>
<path d="M564.2,63.2 V108.5 M562.5,63.2 H565.9 M562.5,108.5 H565.9" stroke="#5c5cff" stroke-width="1" fill="none"/>
<path d="M571.4,13.6 V63.2 M569.7,13.6 H573.1 M569.7,63.2 H573.1" stroke="#5c5cff" stroke-width="1" fill="none"/>
<path d="M578.6,125.2 V181.1 M576.9,125.2 H580.3 M576.9,181.1 H580.3" stroke="#5c5cff" stroke-width="1" fill="none"/>
<path d="M585.7,118.1 V191 M584,118.1 H587.4 M584,191 H587.4" stroke="#5c5cff" stroke-width="1" fill="none"/>
<rect x="353.9" y="97.2" width="4.7" height="4.7" fill="#0000ff"/>
<rect x="361.1" y="131.1" width="4.7" height="4.7" fill="#0000ff"/>
<rect x="368.3" y="73.8" width="4.7" height="4.7" fill="#0000ff"/>
<rect x="375.5" y="110.4" width="4.7" height="4.7" fill="#0000ff"/>
<rect x="382.6" y="149.8" width="4.7" height="4.7" fill="#0000ff"/>
<rect x="389.8" y="66.4" width="4.7" height="4.7" fill="#0000ff"/>
<rect x="397" y="91.1" width="4.7" height="4.7" fill="#0000ff"/>
<rect x="404.1" y="79.6" width="4.7" height="4.7" fill="#0000ff"/>
<rect x="411.3" y="84.2" width="4.7" height="4.7" fill="#0000ff"/>
<rect x="418.5" y="134.8" width="4.7" height="4.7" fill="#0000ff"/>
<rect x="425.6" y="103.2" width="4.7" height="4.7" fill="#0000ff"/>
<rect x="432.8" y="106" width="4.7" height="4.7" fill="#0000ff"/>
<rect x="440" y="69.7" width="4.7" height="4.7" fill="#0000ff"/>
<rect x="447.2" y="66.4" width="4.7" height="4.7" fill="#0000ff"/>
<rect x="454.3" y="104.4" width="4.7" height="4.7" fill="#0000ff"/>
<rect x="461.5" y="114.8" width="4.7" height="4.7" fill="#0000ff"/>
<rect x="468.7" y="112.4" width="4.7" height="4.7" fill="#0000ff"/>
<rect x="475.8" y="67.5" width="4.7" height="4.7" fill="#0000ff"/>
<rect x="483" y="93.6" width="4.7" height="4.7" fill="#0000ff"/>
<rect x="490.2" y="92.5" width="4.7" height="4.7" fill="#0000ff"/>
<rect x="497.4" y="100.2" width="4.7" height="4.7" fill="#0000ff"/>
<rect x="504.5" y="78" width="4.7" height="4.7" fill="#0000ff"/>
<rect x="511.7" y="74.1" width="4.7" height="4.7" fill="#0000ff"/>
<rect x="518.9" y="61.5" width="4.7" height="4.7" fill="#0000ff"/>
<rect x="526" y="73.2" width="4.7" height="4.7" fill="#0000ff"/>
<rect x="533.2" y="61.5" width="4.7" height="4.7" fill="#0000ff"/>
<rect x="540.4" y="63.4" width="4.7" height="4.7" fill="#0000ff"/>
<rect x="547.5" y="30.9" width="4.7" height="4.7" fill="#0000ff"/>
<rect x="554.7" y="85.4" width="4.7" height="4.7" fill="#0000ff"/>
<rect x="561.9" y="83" width="4.7" height="4.7" fill="#0000ff"/>
<rect x="569.1" y="35.9" width="4.7" height="4.7" fill="#0000ff"/>
<rect x="576.2" y="151.2" width="4.7" height="4.7" fill="#0000ff"/>
<rect x="583.4" y="152" width="4.7" height="4.7" fill="#0000ff"/>
<polyline points="355.8,102.8 363.5,102.8 370.6,102.8 377.8,102.8 385,102.8 392.2,102.8 399.3,102.8 406.5,102.8 413.7,102.8 420.8,102.8 428,102.8 435.2,102.8 442.3,102.7 449.5,102.6 456.7,102.5 463.9,102.4 471,102.1 478.2,100.6 485.4,97.8 492.5,93.7 499.7,85.5 506.9,76 514,66.5 521.2,61.5 528.4,60.1 535.5,60 542.7,60.4 549.9,60.4 557.1,60.9 564.2,65.3 571.4,72.4 578.6,81.9 585.7,91.3 592.9,97.2 600.1,100.8" fill="none" stroke="#ff0000" stroke-width="2.6" stroke-linejoin="round"/>
<text x="377.2" y="14.8" font-size="10.8" text-anchor="start" fill="#111" font-weight="normal" stroke="#111" stroke-width="0.25" >Q = 0.20 &#197;</text>
<text x="428.1" y="9.7" font-size="10.3" text-anchor="start" fill="#111" font-weight="normal" stroke="#111" stroke-width="0.25" >-1</text>
<rect x="387" y="22.1" width="4.8" height="4.9" fill="#0000ff"/>
<text x="404" y="28" font-size="10.4" text-anchor="start" fill="#111" font-weight="normal" stroke="#111" stroke-width="0.25" >300 K - 21 K</text>
<line x1="377.8" y1="37.9" x2="400.8" y2="37.9" stroke="#ff0000" stroke-width="2.6" stroke-linecap="round"/>
<text x="406.4" y="40.9" font-size="10.6" text-anchor="start" fill="#111" font-weight="normal" stroke="#111" stroke-width="0.25" >Model</text>
<text x="357.6" y="194.3" font-size="17.2" text-anchor="start" fill="#111" font-weight="normal" stroke="#111" stroke-width="0.25" >(b)</text>
<path d="M39.4,274.2 V476" fill="none" stroke="#686868" stroke-width="1.4"/>
<path d="M37.8,475.3 H289.5" fill="none" stroke="#686868" stroke-width="1.4"/>
<line x1="37.4" y1="475.2" x2="39.4" y2="475.2" stroke="#686868" stroke-width="1"/>
<line x1="37.4" y1="468" x2="39.4" y2="468" stroke="#686868" stroke-width="1"/>
<line x1="37.4" y1="462" x2="39.4" y2="462" stroke="#686868" stroke-width="1"/>
<line x1="37.4" y1="457.1" x2="39.4" y2="457.1" stroke="#686868" stroke-width="1"/>
<line x1="37.4" y1="452.7" x2="39.4" y2="452.7" stroke="#686868" stroke-width="1"/>
<line x1="37.4" y1="448.9" x2="39.4" y2="448.9" stroke="#686868" stroke-width="1"/>
<line x1="35.4" y1="445.5" x2="39.4" y2="445.5" stroke="#686868" stroke-width="1"/>
<line x1="37.4" y1="423" x2="39.4" y2="423" stroke="#686868" stroke-width="1"/>
<line x1="37.4" y1="409.9" x2="39.4" y2="409.9" stroke="#686868" stroke-width="1"/>
<line x1="37.4" y1="400.6" x2="39.4" y2="400.6" stroke="#686868" stroke-width="1"/>
<line x1="37.4" y1="393.4" x2="39.4" y2="393.4" stroke="#686868" stroke-width="1"/>
<line x1="37.4" y1="387.4" x2="39.4" y2="387.4" stroke="#686868" stroke-width="1"/>
<line x1="37.4" y1="382.5" x2="39.4" y2="382.5" stroke="#686868" stroke-width="1"/>
<line x1="37.4" y1="378.1" x2="39.4" y2="378.1" stroke="#686868" stroke-width="1"/>
<line x1="37.4" y1="374.3" x2="39.4" y2="374.3" stroke="#686868" stroke-width="1"/>
<line x1="35.4" y1="370.9" x2="39.4" y2="370.9" stroke="#686868" stroke-width="1"/>
<line x1="37.4" y1="348.4" x2="39.4" y2="348.4" stroke="#686868" stroke-width="1"/>
<line x1="37.4" y1="335.3" x2="39.4" y2="335.3" stroke="#686868" stroke-width="1"/>
<line x1="37.4" y1="326" x2="39.4" y2="326" stroke="#686868" stroke-width="1"/>
<line x1="37.4" y1="318.8" x2="39.4" y2="318.8" stroke="#686868" stroke-width="1"/>
<line x1="37.4" y1="312.8" x2="39.4" y2="312.8" stroke="#686868" stroke-width="1"/>
<line x1="37.4" y1="307.9" x2="39.4" y2="307.9" stroke="#686868" stroke-width="1"/>
<line x1="37.4" y1="303.5" x2="39.4" y2="303.5" stroke="#686868" stroke-width="1"/>
<line x1="37.4" y1="299.7" x2="39.4" y2="299.7" stroke="#686868" stroke-width="1"/>
<line x1="35.4" y1="296.3" x2="39.4" y2="296.3" stroke="#686868" stroke-width="1"/>
<line x1="37.4" y1="273.8" x2="39.4" y2="273.8" stroke="#686868" stroke-width="1"/>
<line x1="54.8" y1="475.3" x2="54.8" y2="477.3" stroke="#686868" stroke-width="1"/>
<line x1="79.7" y1="475.3" x2="79.7" y2="479.3" stroke="#686868" stroke-width="1"/>
<line x1="104.6" y1="475.3" x2="104.6" y2="477.3" stroke="#686868" stroke-width="1"/>
<line x1="129.5" y1="475.3" x2="129.5" y2="479.3" stroke="#686868" stroke-width="1"/>
<line x1="154.4" y1="475.3" x2="154.4" y2="477.3" stroke="#686868" stroke-width="1"/>
<line x1="179.3" y1="475.3" x2="179.3" y2="479.3" stroke="#686868" stroke-width="1"/>
<line x1="204.2" y1="475.3" x2="204.2" y2="477.3" stroke="#686868" stroke-width="1"/>
<line x1="229.1" y1="475.3" x2="229.1" y2="479.3" stroke="#686868" stroke-width="1"/>
<line x1="254" y1="475.3" x2="254" y2="477.3" stroke="#686868" stroke-width="1"/>
<line x1="278.9" y1="475.3" x2="278.9" y2="479.3" stroke="#686868" stroke-width="1"/>
<text x="32" y="447.7" font-size="8.6" text-anchor="end" fill="#4a4a4a" font-weight="normal" >10</text>
<text x="32" y="373.1" font-size="8.6" text-anchor="end" fill="#4a4a4a" font-weight="normal" >100</text>
<text x="32" y="298.5" font-size="8.6" text-anchor="end" fill="#4a4a4a" font-weight="normal" >1000</text>
<text x="79.7" y="489" font-size="9" text-anchor="middle" fill="#4a4a4a" font-weight="normal" >0.0</text>
<text x="129.5" y="489" font-size="9" text-anchor="middle" fill="#4a4a4a" font-weight="normal" >0.5</text>
<text x="179.3" y="489" font-size="9" text-anchor="middle" fill="#4a4a4a" font-weight="normal" >1.0</text>
<text x="229.1" y="489" font-size="9" text-anchor="middle" fill="#4a4a4a" font-weight="normal" >1.5</text>
<text x="278.9" y="489" font-size="9" text-anchor="middle" fill="#4a4a4a" font-weight="normal" >2.0</text>
<text x="164.5" y="504.5" font-size="10.4" text-anchor="middle" fill="#222" font-weight="normal" stroke="#222" stroke-width="0.25" >Energy (meV&#8201;)</text>
<text x="0" y="0" font-size="9.9" text-anchor="middle" fill="#222" font-weight="bold" transform="translate(7.9,373.6) rotate(-90)">Intensity (per 20,000 monitor counts)</text>
<polyline points="44.8,383.5 49.8,357.5 54.8,344.9 59.8,325.8 64.8,313.4 69.7,305.7 74.7,297.2 79.7,293.8 84.7,296.6 89.7,298.6 94.6,304.6 99.6,318 104.6,332.7 109.6,349.6 114.6,366 119.5,392.4 124.5,411.5 129.5,421.6 134.5,429 139.5,429.7 144.4,427.9 149.4,428.5 154.4,436.7 159.4,433.1 164.4,436.7 169.3,432.5 174.3,430.8 179.3,437 184.3,439.6 189.3,437.2 194.2,432 199.2,437.3 204.2,434.7 209.2,436.6 214.2,434.7 219.1,436.2 224.1,436.2 229.1,438.1 234.1,437.7 239.1,437.7 244,431.3 249,429.4 254,435 259,430.8 264,428.2 268.9,425.9 273.9,427.2 278.9,426.3 283.9,429.2 288.9,424.9" fill="none" stroke="#ff0000" stroke-width="0.9"/>
<path d="M44.8,381 V386 M43,381 H46.6 M43,386 H46.6" stroke="#ff0000" stroke-width="0.9" fill="none"/>
<path d="M49.8,355 V360 M48,355 H51.6 M48,360 H51.6" stroke="#ff0000" stroke-width="0.9" fill="none"/>
<path d="M114.6,363.5 V368.5 M112.8,363.5 H116.4 M112.8,368.5 H116.4" stroke="#ff0000" stroke-width="0.9" fill="none"/>
<path d="M119.5,389.9 V394.9 M117.7,389.9 H121.3 M117.7,394.9 H121.3" stroke="#ff0000" stroke-width="0.9" fill="none"/>
<path d="M124.5,408 V415 M122.7,408 H126.3 M122.7,415 H126.3" stroke="#ff0000" stroke-width="0.9" fill="none"/>
<path d="M129.5,418.1 V425.1 M127.7,418.1 H131.3 M127.7,425.1 H131.3" stroke="#ff0000" stroke-width="0.9" fill="none"/>
<path d="M134.5,425.5 V432.5 M132.7,425.5 H136.3 M132.7,432.5 H136.3" stroke="#ff0000" stroke-width="0.9" fill="none"/>
<path d="M139.5,426.2 V433.2 M137.7,426.2 H141.3 M137.7,433.2 H141.3" stroke="#ff0000" stroke-width="0.9" fill="none"/>
<path d="M144.4,424.4 V431.4 M142.6,424.4 H146.2 M142.6,431.4 H146.2" stroke="#ff0000" stroke-width="0.9" fill="none"/>
<path d="M149.4,425 V432 M147.6,425 H151.2 M147.6,432 H151.2" stroke="#ff0000" stroke-width="0.9" fill="none"/>
<path d="M154.4,433.2 V440.2 M152.6,433.2 H156.2 M152.6,440.2 H156.2" stroke="#ff0000" stroke-width="0.9" fill="none"/>
<path d="M159.4,429.6 V436.6 M157.6,429.6 H161.2 M157.6,436.6 H161.2" stroke="#ff0000" stroke-width="0.9" fill="none"/>
<path d="M164.4,433.2 V440.2 M162.6,433.2 H166.2 M162.6,440.2 H166.2" stroke="#ff0000" stroke-width="0.9" fill="none"/>
<path d="M169.3,429 V436 M167.5,429 H171.1 M167.5,436 H171.1" stroke="#ff0000" stroke-width="0.9" fill="none"/>
<path d="M174.3,427.3 V434.3 M172.5,427.3 H176.1 M172.5,434.3 H176.1" stroke="#ff0000" stroke-width="0.9" fill="none"/>
<path d="M179.3,433.5 V440.5 M177.5,433.5 H181.1 M177.5,440.5 H181.1" stroke="#ff0000" stroke-width="0.9" fill="none"/>
<path d="M184.3,436.1 V443.1 M182.5,436.1 H186.1 M182.5,443.1 H186.1" stroke="#ff0000" stroke-width="0.9" fill="none"/>
<path d="M189.3,433.7 V440.7 M187.5,433.7 H191.1 M187.5,440.7 H191.1" stroke="#ff0000" stroke-width="0.9" fill="none"/>
<path d="M194.2,428.5 V435.5 M192.4,428.5 H196 M192.4,435.5 H196" stroke="#ff0000" stroke-width="0.9" fill="none"/>
<path d="M199.2,433.8 V440.8 M197.4,433.8 H201 M197.4,440.8 H201" stroke="#ff0000" stroke-width="0.9" fill="none"/>
<path d="M204.2,431.2 V438.2 M202.4,431.2 H206 M202.4,438.2 H206" stroke="#ff0000" stroke-width="0.9" fill="none"/>
<path d="M209.2,433.1 V440.1 M207.4,433.1 H211 M207.4,440.1 H211" stroke="#ff0000" stroke-width="0.9" fill="none"/>
<path d="M214.2,431.2 V438.2 M212.4,431.2 H216 M212.4,438.2 H216" stroke="#ff0000" stroke-width="0.9" fill="none"/>
<path d="M219.1,432.7 V439.7 M217.3,432.7 H220.9 M217.3,439.7 H220.9" stroke="#ff0000" stroke-width="0.9" fill="none"/>
<path d="M224.1,432.7 V439.7 M222.3,432.7 H225.9 M222.3,439.7 H225.9" stroke="#ff0000" stroke-width="0.9" fill="none"/>
<path d="M229.1,434.6 V441.6 M227.3,434.6 H230.9 M227.3,441.6 H230.9" stroke="#ff0000" stroke-width="0.9" fill="none"/>
<path d="M234.1,434.2 V441.2 M232.3,434.2 H235.9 M232.3,441.2 H235.9" stroke="#ff0000" stroke-width="0.9" fill="none"/>
<path d="M239.1,434.2 V441.2 M237.3,434.2 H240.9 M237.3,441.2 H240.9" stroke="#ff0000" stroke-width="0.9" fill="none"/>
<path d="M244,427.8 V434.8 M242.2,427.8 H245.8 M242.2,434.8 H245.8" stroke="#ff0000" stroke-width="0.9" fill="none"/>
<path d="M249,425.9 V432.9 M247.2,425.9 H250.8 M247.2,432.9 H250.8" stroke="#ff0000" stroke-width="0.9" fill="none"/>
<path d="M254,431.5 V438.5 M252.2,431.5 H255.8 M252.2,438.5 H255.8" stroke="#ff0000" stroke-width="0.9" fill="none"/>
<path d="M259,427.3 V434.3 M257.2,427.3 H260.8 M257.2,434.3 H260.8" stroke="#ff0000" stroke-width="0.9" fill="none"/>
<path d="M264,424.7 V431.7 M262.2,424.7 H265.8 M262.2,431.7 H265.8" stroke="#ff0000" stroke-width="0.9" fill="none"/>
<path d="M268.9,422.4 V429.4 M267.1,422.4 H270.7 M267.1,429.4 H270.7" stroke="#ff0000" stroke-width="0.9" fill="none"/>
<path d="M273.9,423.7 V430.7 M272.1,423.7 H275.7 M272.1,430.7 H275.7" stroke="#ff0000" stroke-width="0.9" fill="none"/>
<path d="M278.9,422.8 V429.8 M277.1,422.8 H280.7 M277.1,429.8 H280.7" stroke="#ff0000" stroke-width="0.9" fill="none"/>
<path d="M283.9,425.7 V432.7 M282.1,425.7 H285.7 M282.1,432.7 H285.7" stroke="#ff0000" stroke-width="0.9" fill="none"/>
<path d="M288.9,421.4 V428.4 M287.1,421.4 H290.7 M287.1,428.4 H290.7" stroke="#ff0000" stroke-width="0.9" fill="none"/>
<circle cx="44.8" cy="383.5" r="2.35" fill="#ff0000"/>
<circle cx="49.8" cy="357.5" r="2.35" fill="#ff0000"/>
<circle cx="54.8" cy="344.9" r="2.35" fill="#ff0000"/>
<circle cx="59.8" cy="325.8" r="2.35" fill="#ff0000"/>
<circle cx="64.8" cy="313.4" r="2.35" fill="#ff0000"/>
<circle cx="69.7" cy="305.7" r="2.35" fill="#ff0000"/>
<circle cx="74.7" cy="297.2" r="2.35" fill="#ff0000"/>
<circle cx="79.7" cy="293.8" r="2.35" fill="#ff0000"/>
<circle cx="84.7" cy="296.6" r="2.35" fill="#ff0000"/>
<circle cx="89.7" cy="298.6" r="2.35" fill="#ff0000"/>
<circle cx="94.6" cy="304.6" r="2.35" fill="#ff0000"/>
<circle cx="99.6" cy="318" r="2.35" fill="#ff0000"/>
<circle cx="104.6" cy="332.7" r="2.35" fill="#ff0000"/>
<circle cx="109.6" cy="349.6" r="2.35" fill="#ff0000"/>
<circle cx="114.6" cy="366" r="2.35" fill="#ff0000"/>
<circle cx="119.5" cy="392.4" r="2.35" fill="#ff0000"/>
<circle cx="124.5" cy="411.5" r="2.35" fill="#ff0000"/>
<circle cx="129.5" cy="421.6" r="2.35" fill="#ff0000"/>
<circle cx="134.5" cy="429" r="2.35" fill="#ff0000"/>
<circle cx="139.5" cy="429.7" r="2.35" fill="#ff0000"/>
<circle cx="144.4" cy="427.9" r="2.35" fill="#ff0000"/>
<circle cx="149.4" cy="428.5" r="2.35" fill="#ff0000"/>
<circle cx="154.4" cy="436.7" r="2.35" fill="#ff0000"/>
<circle cx="159.4" cy="433.1" r="2.35" fill="#ff0000"/>
<circle cx="164.4" cy="436.7" r="2.35" fill="#ff0000"/>
<circle cx="169.3" cy="432.5" r="2.35" fill="#ff0000"/>
<circle cx="174.3" cy="430.8" r="2.35" fill="#ff0000"/>
<circle cx="179.3" cy="437" r="2.35" fill="#ff0000"/>
<circle cx="184.3" cy="439.6" r="2.35" fill="#ff0000"/>
<circle cx="189.3" cy="437.2" r="2.35" fill="#ff0000"/>
<circle cx="194.2" cy="432" r="2.35" fill="#ff0000"/>
<circle cx="199.2" cy="437.3" r="2.35" fill="#ff0000"/>
<circle cx="204.2" cy="434.7" r="2.35" fill="#ff0000"/>
<circle cx="209.2" cy="436.6" r="2.35" fill="#ff0000"/>
<circle cx="214.2" cy="434.7" r="2.35" fill="#ff0000"/>
<circle cx="219.1" cy="436.2" r="2.35" fill="#ff0000"/>
<circle cx="224.1" cy="436.2" r="2.35" fill="#ff0000"/>
<circle cx="229.1" cy="438.1" r="2.35" fill="#ff0000"/>
<circle cx="234.1" cy="437.7" r="2.35" fill="#ff0000"/>
<circle cx="239.1" cy="437.7" r="2.35" fill="#ff0000"/>
<circle cx="244" cy="431.3" r="2.35" fill="#ff0000"/>
<circle cx="249" cy="429.4" r="2.35" fill="#ff0000"/>
<circle cx="254" cy="435" r="2.35" fill="#ff0000"/>
<circle cx="259" cy="430.8" r="2.35" fill="#ff0000"/>
<circle cx="264" cy="428.2" r="2.35" fill="#ff0000"/>
<circle cx="268.9" cy="425.9" r="2.35" fill="#ff0000"/>
<circle cx="273.9" cy="427.2" r="2.35" fill="#ff0000"/>
<circle cx="278.9" cy="426.3" r="2.35" fill="#ff0000"/>
<circle cx="283.9" cy="429.2" r="2.35" fill="#ff0000"/>
<circle cx="288.9" cy="424.9" r="2.35" fill="#ff0000"/>
<polyline points="44.8,386.8 49.8,356 54.8,336 59.8,315.9 64.8,306.2 69.7,296.4 74.7,289 79.7,286.9 84.7,289 89.7,289.9 94.6,296.4 99.6,312.2 104.6,323 109.6,346.8 114.6,371.8 119.5,394.6 124.5,420.5 129.5,443.7 134.5,456.5 139.5,447.9 144.4,450.4 149.4,460.7 154.4,457.1 159.4,447.9 164.4,458.9 169.3,464.4 174.3,454.4 179.3,455.7 184.3,453.8 189.3,455.9 194.2,453 199.2,458.3 204.2,453.9 209.2,459.4 214.2,449.9 219.1,447 224.1,455.8 229.1,449.9 234.1,443.9 239.1,447.6 244,442.9 249,448.5 254,450 259,445.2 264,442 268.9,434.7 273.9,436.7 278.9,433.5 283.9,435.1 288.9,428.2" fill="none" stroke="#222" stroke-width="0.9"/>
<path d="M44.8,383.8 V389.8 M43,383.8 H46.6 M43,389.8 H46.6" stroke="#222" stroke-width="0.9" fill="none"/>
<path d="M49.8,354 V358 M48,354 H51.6 M48,358 H51.6" stroke="#222" stroke-width="0.9" fill="none"/>
<path d="M109.6,344.8 V348.8 M107.8,344.8 H111.4 M107.8,348.8 H111.4" stroke="#222" stroke-width="0.9" fill="none"/>
<path d="M114.6,369.8 V373.8 M112.8,369.8 H116.4 M112.8,373.8 H116.4" stroke="#222" stroke-width="0.9" fill="none"/>
<path d="M119.5,391.6 V397.6 M117.7,391.6 H121.3 M117.7,397.6 H121.3" stroke="#222" stroke-width="0.9" fill="none"/>
<path d="M124.5,416.9 V424.1 M122.7,416.9 H126.3 M122.7,424.1 H126.3" stroke="#222" stroke-width="0.9" fill="none"/>
<path d="M129.5,439.7 V447.7 M127.7,439.7 H131.3 M127.7,447.7 H131.3" stroke="#222" stroke-width="0.9" fill="none"/>
<path d="M134.5,452.5 V460.5 M132.7,452.5 H136.3 M132.7,460.5 H136.3" stroke="#222" stroke-width="0.9" fill="none"/>
<path d="M139.5,443.9 V451.9 M137.7,443.9 H141.3 M137.7,451.9 H141.3" stroke="#222" stroke-width="0.9" fill="none"/>
<path d="M144.4,446.4 V454.4 M142.6,446.4 H146.2 M142.6,454.4 H146.2" stroke="#222" stroke-width="0.9" fill="none"/>
<path d="M149.4,456.7 V464.7 M147.6,456.7 H151.2 M147.6,464.7 H151.2" stroke="#222" stroke-width="0.9" fill="none"/>
<path d="M154.4,453.1 V461.1 M152.6,453.1 H156.2 M152.6,461.1 H156.2" stroke="#222" stroke-width="0.9" fill="none"/>
<path d="M159.4,443.9 V451.9 M157.6,443.9 H161.2 M157.6,451.9 H161.2" stroke="#222" stroke-width="0.9" fill="none"/>
<path d="M164.4,454.9 V462.9 M162.6,454.9 H166.2 M162.6,462.9 H166.2" stroke="#222" stroke-width="0.9" fill="none"/>
<path d="M169.3,460.4 V468.4 M167.5,460.4 H171.1 M167.5,468.4 H171.1" stroke="#222" stroke-width="0.9" fill="none"/>
<path d="M174.3,450.4 V458.4 M172.5,450.4 H176.1 M172.5,458.4 H176.1" stroke="#222" stroke-width="0.9" fill="none"/>
<path d="M179.3,451.7 V459.7 M177.5,451.7 H181.1 M177.5,459.7 H181.1" stroke="#222" stroke-width="0.9" fill="none"/>
<path d="M184.3,449.8 V457.8 M182.5,449.8 H186.1 M182.5,457.8 H186.1" stroke="#222" stroke-width="0.9" fill="none"/>
<path d="M189.3,451.9 V459.9 M187.5,451.9 H191.1 M187.5,459.9 H191.1" stroke="#222" stroke-width="0.9" fill="none"/>
<path d="M194.2,449 V457 M192.4,449 H196 M192.4,457 H196" stroke="#222" stroke-width="0.9" fill="none"/>
<path d="M199.2,454.3 V462.3 M197.4,454.3 H201 M197.4,462.3 H201" stroke="#222" stroke-width="0.9" fill="none"/>
<path d="M204.2,449.9 V457.9 M202.4,449.9 H206 M202.4,457.9 H206" stroke="#222" stroke-width="0.9" fill="none"/>
<path d="M209.2,455.4 V463.4 M207.4,455.4 H211 M207.4,463.4 H211" stroke="#222" stroke-width="0.9" fill="none"/>
<path d="M214.2,445.9 V453.9 M212.4,445.9 H216 M212.4,453.9 H216" stroke="#222" stroke-width="0.9" fill="none"/>
<path d="M219.1,443 V451 M217.3,443 H220.9 M217.3,451 H220.9" stroke="#222" stroke-width="0.9" fill="none"/>
<path d="M224.1,451.8 V459.8 M222.3,451.8 H225.9 M222.3,459.8 H225.9" stroke="#222" stroke-width="0.9" fill="none"/>
<path d="M229.1,445.9 V453.9 M227.3,445.9 H230.9 M227.3,453.9 H230.9" stroke="#222" stroke-width="0.9" fill="none"/>
<path d="M234.1,439.9 V447.9 M232.3,439.9 H235.9 M232.3,447.9 H235.9" stroke="#222" stroke-width="0.9" fill="none"/>
<path d="M239.1,443.6 V451.6 M237.3,443.6 H240.9 M237.3,451.6 H240.9" stroke="#222" stroke-width="0.9" fill="none"/>
<path d="M244,438.9 V446.9 M242.2,438.9 H245.8 M242.2,446.9 H245.8" stroke="#222" stroke-width="0.9" fill="none"/>
<path d="M249,444.5 V452.5 M247.2,444.5 H250.8 M247.2,452.5 H250.8" stroke="#222" stroke-width="0.9" fill="none"/>
<path d="M254,446 V454 M252.2,446 H255.8 M252.2,454 H255.8" stroke="#222" stroke-width="0.9" fill="none"/>
<path d="M259,441.2 V449.2 M257.2,441.2 H260.8 M257.2,449.2 H260.8" stroke="#222" stroke-width="0.9" fill="none"/>
<path d="M264,438 V446 M262.2,438 H265.8 M262.2,446 H265.8" stroke="#222" stroke-width="0.9" fill="none"/>
<path d="M268.9,431.1 V438.3 M267.1,431.1 H270.7 M267.1,438.3 H270.7" stroke="#222" stroke-width="0.9" fill="none"/>
<path d="M273.9,433.1 V440.3 M272.1,433.1 H275.7 M272.1,440.3 H275.7" stroke="#222" stroke-width="0.9" fill="none"/>
<path d="M278.9,429.9 V437.1 M277.1,429.9 H280.7 M277.1,437.1 H280.7" stroke="#222" stroke-width="0.9" fill="none"/>
<path d="M283.9,431.5 V438.7 M282.1,431.5 H285.7 M282.1,438.7 H285.7" stroke="#222" stroke-width="0.9" fill="none"/>
<path d="M288.9,424.6 V431.8 M287.1,424.6 H290.7 M287.1,431.8 H290.7" stroke="#222" stroke-width="0.9" fill="none"/>
<rect x="42.6" y="384.6" width="4.4" height="4.5" fill="#000"/>
<rect x="47.6" y="353.8" width="4.4" height="4.5" fill="#000"/>
<rect x="52.6" y="333.8" width="4.4" height="4.5" fill="#000"/>
<rect x="57.6" y="313.6" width="4.4" height="4.5" fill="#000"/>
<rect x="62.6" y="303.9" width="4.4" height="4.5" fill="#000"/>
<rect x="67.5" y="294.1" width="4.4" height="4.5" fill="#000"/>
<rect x="72.5" y="286.8" width="4.4" height="4.5" fill="#000"/>
<rect x="77.5" y="284.6" width="4.4" height="4.5" fill="#000"/>
<rect x="82.5" y="286.8" width="4.4" height="4.5" fill="#000"/>
<rect x="87.5" y="287.6" width="4.4" height="4.5" fill="#000"/>
<rect x="92.4" y="294.1" width="4.4" height="4.5" fill="#000"/>
<rect x="97.4" y="309.9" width="4.4" height="4.5" fill="#000"/>
<rect x="102.4" y="320.8" width="4.4" height="4.5" fill="#000"/>
<rect x="107.4" y="344.6" width="4.4" height="4.5" fill="#000"/>
<rect x="112.4" y="369.6" width="4.4" height="4.5" fill="#000"/>
<rect x="117.3" y="392.4" width="4.4" height="4.5" fill="#000"/>
<rect x="122.3" y="418.2" width="4.4" height="4.5" fill="#000"/>
<rect x="127.3" y="441.4" width="4.4" height="4.5" fill="#000"/>
<rect x="132.3" y="454.2" width="4.4" height="4.5" fill="#000"/>
<rect x="137.3" y="445.6" width="4.4" height="4.5" fill="#000"/>
<rect x="142.2" y="448.1" width="4.4" height="4.5" fill="#000"/>
<rect x="147.2" y="458.4" width="4.4" height="4.5" fill="#000"/>
<rect x="152.2" y="454.9" width="4.4" height="4.5" fill="#000"/>
<rect x="157.2" y="445.6" width="4.4" height="4.5" fill="#000"/>
<rect x="162.2" y="456.6" width="4.4" height="4.5" fill="#000"/>
<rect x="167.1" y="462.1" width="4.4" height="4.5" fill="#000"/>
<rect x="172.1" y="452.1" width="4.4" height="4.5" fill="#000"/>
<rect x="177.1" y="453.4" width="4.4" height="4.5" fill="#000"/>
<rect x="182.1" y="451.6" width="4.4" height="4.5" fill="#000"/>
<rect x="187.1" y="453.6" width="4.4" height="4.5" fill="#000"/>
<rect x="192" y="450.8" width="4.4" height="4.5" fill="#000"/>
<rect x="197" y="456.1" width="4.4" height="4.5" fill="#000"/>
<rect x="202" y="451.6" width="4.4" height="4.5" fill="#000"/>
<rect x="207" y="457.1" width="4.4" height="4.5" fill="#000"/>
<rect x="212" y="447.6" width="4.4" height="4.5" fill="#000"/>
<rect x="216.9" y="444.8" width="4.4" height="4.5" fill="#000"/>
<rect x="221.9" y="453.6" width="4.4" height="4.5" fill="#000"/>
<rect x="226.9" y="447.6" width="4.4" height="4.5" fill="#000"/>
<rect x="231.9" y="441.6" width="4.4" height="4.5" fill="#000"/>
<rect x="236.9" y="445.4" width="4.4" height="4.5" fill="#000"/>
<rect x="241.8" y="440.6" width="4.4" height="4.5" fill="#000"/>
<rect x="246.8" y="446.2" width="4.4" height="4.5" fill="#000"/>
<rect x="251.8" y="447.8" width="4.4" height="4.5" fill="#000"/>
<rect x="256.8" y="442.9" width="4.4" height="4.5" fill="#000"/>
<rect x="261.8" y="439.8" width="4.4" height="4.5" fill="#000"/>
<rect x="266.7" y="432.4" width="4.4" height="4.5" fill="#000"/>
<rect x="271.7" y="434.4" width="4.4" height="4.5" fill="#000"/>
<rect x="276.7" y="431.2" width="4.4" height="4.5" fill="#000"/>
<rect x="281.7" y="432.9" width="4.4" height="4.5" fill="#000"/>
<rect x="286.7" y="425.9" width="4.4" height="4.5" fill="#000"/>
<text x="150.9" y="335" font-size="10.8" text-anchor="start" fill="#111" font-weight="normal" stroke="#111" stroke-width="0.25" >Q = 0.25 &#197;</text>
<text x="201.9" y="329.9" font-size="10.3" text-anchor="start" fill="#111" font-weight="normal" stroke="#111" stroke-width="0.25" >-1</text>
<line x1="151.1" y1="345.2" x2="175" y2="345.2" stroke="#ff4040" stroke-width="1"/><circle cx="162.8" cy="345.2" r="2.6" fill="#ff0000"/>
<text x="177.9" y="348.4" font-size="10.6" text-anchor="start" fill="#111" font-weight="normal" stroke="#111" stroke-width="0.25" >300K</text>
<line x1="151.1" y1="358.2" x2="175" y2="358.2" stroke="#555" stroke-width="1"/><rect x="160.2" y="355.7" width="4.6" height="4.8" fill="#000"/>
<text x="177.9" y="361.4" font-size="10.6" text-anchor="start" fill="#111" font-weight="normal" stroke="#111" stroke-width="0.25" >21K</text>
<text x="164.8" y="395.4" font-size="17.2" text-anchor="start" fill="#111" font-weight="normal" stroke="#111" stroke-width="0.25" >(c)</text>
<path d="M210.5,394.5 H213.9 V408.2 H217.3 L212.2,418.3 L207.1,408.2 H210.5 V408.2 Z" fill="#0000ff"/>
<path d="M253.5,393.4 H256.9 V407.1 H260.3 L255.2,417.2 L250.1,407.1 H253.5 V407.1 Z" fill="#0000ff"/>
<path d="M350.5,274.2 V475.8" fill="none" stroke="#686868" stroke-width="1.4"/>
<path d="M348.9,475.1 H601" fill="none" stroke="#686868" stroke-width="1.4"/>
<line x1="346.5" y1="475.1" x2="350.5" y2="475.1" stroke="#686868" stroke-width="1"/>
<line x1="348.5" y1="459.7" x2="350.5" y2="459.7" stroke="#686868" stroke-width="1"/>
<line x1="346.5" y1="444.2" x2="350.5" y2="444.2" stroke="#686868" stroke-width="1"/>
<line x1="348.5" y1="428.8" x2="350.5" y2="428.8" stroke="#686868" stroke-width="1"/>
<line x1="346.5" y1="413.3" x2="350.5" y2="413.3" stroke="#686868" stroke-width="1"/>
<line x1="348.5" y1="397.9" x2="350.5" y2="397.9" stroke="#686868" stroke-width="1"/>
<line x1="346.5" y1="382.5" x2="350.5" y2="382.5" stroke="#686868" stroke-width="1"/>
<line x1="348.5" y1="367" x2="350.5" y2="367" stroke="#686868" stroke-width="1"/>
<line x1="346.5" y1="351.6" x2="350.5" y2="351.6" stroke="#686868" stroke-width="1"/>
<line x1="348.5" y1="336.1" x2="350.5" y2="336.1" stroke="#686868" stroke-width="1"/>
<line x1="346.5" y1="320.7" x2="350.5" y2="320.7" stroke="#686868" stroke-width="1"/>
<line x1="348.5" y1="305.3" x2="350.5" y2="305.3" stroke="#686868" stroke-width="1"/>
<line x1="346.5" y1="289.8" x2="350.5" y2="289.8" stroke="#686868" stroke-width="1"/>
<line x1="348.5" y1="274.4" x2="350.5" y2="274.4" stroke="#686868" stroke-width="1"/>
<line x1="364" y1="475.1" x2="364" y2="479.1" stroke="#686868" stroke-width="1"/>
<line x1="400.3" y1="475.1" x2="400.3" y2="477.1" stroke="#686868" stroke-width="1"/>
<line x1="436.6" y1="475.1" x2="436.6" y2="479.1" stroke="#686868" stroke-width="1"/>
<line x1="473" y1="475.1" x2="473" y2="477.1" stroke="#686868" stroke-width="1"/>
<line x1="509.3" y1="475.1" x2="509.3" y2="479.1" stroke="#686868" stroke-width="1"/>
<line x1="545.6" y1="475.1" x2="545.6" y2="477.1" stroke="#686868" stroke-width="1"/>
<line x1="582" y1="475.1" x2="582" y2="479.1" stroke="#686868" stroke-width="1"/>
<line x1="618.3" y1="475.1" x2="618.3" y2="477.1" stroke="#686868" stroke-width="1"/>
<text x="344" y="477.6" font-size="9" text-anchor="end" fill="#4a4a4a" font-weight="normal" >0</text>
<text x="344" y="446.7" font-size="9" text-anchor="end" fill="#4a4a4a" font-weight="normal" >2</text>
<text x="344" y="415.8" font-size="9" text-anchor="end" fill="#4a4a4a" font-weight="normal" >4</text>
<text x="344" y="385" font-size="9" text-anchor="end" fill="#4a4a4a" font-weight="normal" >6</text>
<text x="344" y="354.1" font-size="9" text-anchor="end" fill="#4a4a4a" font-weight="normal" >8</text>
<text x="344" y="323.2" font-size="9" text-anchor="end" fill="#4a4a4a" font-weight="normal" >10</text>
<text x="344" y="292.3" font-size="9" text-anchor="end" fill="#4a4a4a" font-weight="normal" >12</text>
<text x="364" y="489" font-size="9" text-anchor="middle" fill="#4a4a4a" font-weight="normal" >0.5</text>
<text x="436.6" y="489" font-size="9" text-anchor="middle" fill="#4a4a4a" font-weight="normal" >1.0</text>
<text x="509.3" y="489" font-size="9" text-anchor="middle" fill="#4a4a4a" font-weight="normal" >1.5</text>
<text x="582" y="489" font-size="9" text-anchor="middle" fill="#4a4a4a" font-weight="normal" >2.0</text>
<text x="476" y="504.5" font-size="10.4" text-anchor="middle" fill="#222" font-weight="normal" stroke="#222" stroke-width="0.25" >Energy (meV&#8201;)</text>
<text x="0" y="0" font-size="9.9" text-anchor="middle" fill="#222" font-weight="bold" transform="translate(328.6,374) rotate(-90)">Intensity (per 20,000 monitor counts)</text>
<clipPath id="cd"><rect x="351" y="270" width="251" height="204.5"/></clipPath><g clip-path="url(#cd)">
<path d="M349.5,405 V449 M347.8,405 H351.2 M347.8,449 H351.2" stroke="#5c5cff" stroke-width="1" fill="none"/>
<path d="M356.7,320.6 V404 M355,320.6 H358.4 M355,404 H358.4" stroke="#5c5cff" stroke-width="1" fill="none"/>
<path d="M364,276.3 V342.2 M362.3,276.3 H365.7 M362.3,342.2 H365.7" stroke="#5c5cff" stroke-width="1" fill="none"/>
<path d="M371.3,298.1 V355.5 M369.6,298.1 H373 M369.6,355.5 H373" stroke="#5c5cff" stroke-width="1" fill="none"/>
<path d="M378.5,337.3 V396.3 M376.8,337.3 H380.2 M376.8,396.3 H380.2" stroke="#5c5cff" stroke-width="1" fill="none"/>
<path d="M385.8,310.3 V370.1 M384.1,310.3 H387.5 M384.1,370.1 H387.5" stroke="#5c5cff" stroke-width="1" fill="none"/>
<path d="M393.1,281.2 V337.1 M391.4,281.2 H394.8 M391.4,337.1 H394.8" stroke="#5c5cff" stroke-width="1" fill="none"/>
<path d="M400.3,353.8 V406 M398.6,353.8 H402 M398.6,406 H402" stroke="#5c5cff" stroke-width="1" fill="none"/>
<path d="M407.6,364.9 V420 M405.9,364.9 H409.3 M405.9,420 H409.3" stroke="#5c5cff" stroke-width="1" fill="none"/>
<path d="M414.9,348.9 V399 M413.2,348.9 H416.6 M413.2,399 H416.6" stroke="#5c5cff" stroke-width="1" fill="none"/>
<path d="M422.1,305.8 V356.4 M420.4,305.8 H423.8 M420.4,356.4 H423.8" stroke="#5c5cff" stroke-width="1" fill="none"/>
<path d="M429.4,323.6 V377.3 M427.7,323.6 H431.1 M427.7,377.3 H431.1" stroke="#5c5cff" stroke-width="1" fill="none"/>
<path d="M436.6,361.2 V412.8 M434.9,361.2 H438.3 M434.9,412.8 H438.3" stroke="#5c5cff" stroke-width="1" fill="none"/>
<path d="M443.9,387.9 V437.4 M442.2,387.9 H445.6 M442.2,437.4 H445.6" stroke="#5c5cff" stroke-width="1" fill="none"/>
<path d="M451.2,365.5 V415.9 M449.5,365.5 H452.9 M449.5,415.9 H452.9" stroke="#5c5cff" stroke-width="1" fill="none"/>
<path d="M458.4,335.5 V389.8 M456.7,335.5 H460.1 M456.7,389.8 H460.1" stroke="#5c5cff" stroke-width="1" fill="none"/>
<path d="M465.7,353 V402.7 M464,353 H467.4 M464,402.7 H467.4" stroke="#5c5cff" stroke-width="1" fill="none"/>
<path d="M473,351.8 V403.9 M471.3,351.8 H474.7 M471.3,403.9 H474.7" stroke="#5c5cff" stroke-width="1" fill="none"/>
<path d="M480.2,345 V393.8 M478.5,345 H481.9 M478.5,393.8 H481.9" stroke="#5c5cff" stroke-width="1" fill="none"/>
<path d="M487.5,368.8 V422.4 M485.8,368.8 H489.2 M485.8,422.4 H489.2" stroke="#5c5cff" stroke-width="1" fill="none"/>
<path d="M494.8,391.5 V445.4 M493.1,391.5 H496.5 M493.1,445.4 H496.5" stroke="#5c5cff" stroke-width="1" fill="none"/>
<path d="M502,357.2 V408.2 M500.3,357.2 H503.7 M500.3,408.2 H503.7" stroke="#5c5cff" stroke-width="1" fill="none"/>
<path d="M509.3,388.7 V441.3 M507.6,388.7 H511 M507.6,441.3 H511" stroke="#5c5cff" stroke-width="1" fill="none"/>
<path d="M516.6,418.3 V473.5 M514.9,418.3 H518.3 M514.9,473.5 H518.3" stroke="#5c5cff" stroke-width="1" fill="none"/>
<path d="M523.8,397.2 V450.2 M522.1,397.2 H525.5 M522.1,450.2 H525.5" stroke="#5c5cff" stroke-width="1" fill="none"/>
<path d="M531.1,374.2 V434 M529.4,374.2 H532.8 M529.4,434 H532.8" stroke="#5c5cff" stroke-width="1" fill="none"/>
<path d="M538.4,332.6 V390.9 M536.7,332.6 H540.1 M536.7,390.9 H540.1" stroke="#5c5cff" stroke-width="1" fill="none"/>
<path d="M545.6,365.5 V421.4 M543.9,365.5 H547.3 M543.9,421.4 H547.3" stroke="#5c5cff" stroke-width="1" fill="none"/>
<path d="M552.9,354.5 V413.9 M551.2,354.5 H554.6 M551.2,413.9 H554.6" stroke="#5c5cff" stroke-width="1" fill="none"/>
<path d="M560.2,355.5 V418 M558.5,355.5 H561.9 M558.5,418 H561.9" stroke="#5c5cff" stroke-width="1" fill="none"/>
<path d="M567.4,373.6 V439.7 M565.7,373.6 H569.1 M565.7,439.7 H569.1" stroke="#5c5cff" stroke-width="1" fill="none"/>
<path d="M574.7,374.4 V439.2 M573,374.4 H576.4 M573,439.2 H576.4" stroke="#5c5cff" stroke-width="1" fill="none"/>
<path d="M582,380 V446.6 M580.2,380 H583.7 M580.2,446.6 H583.7" stroke="#5c5cff" stroke-width="1" fill="none"/>
<path d="M589.2,407 V471.8 M587.5,407 H590.9 M587.5,471.8 H590.9" stroke="#5c5cff" stroke-width="1" fill="none"/>
<path d="M596.5,418.5 V475 M594.8,418.5 H598.2" stroke="#5c5cff" stroke-width="1" fill="none"/>
<circle cx="349.5" cy="427" r="2.55" fill="#0000ff"/>
<circle cx="356.7" cy="362.1" r="2.55" fill="#0000ff"/>
<circle cx="364" cy="309.5" r="2.55" fill="#0000ff"/>
<circle cx="371.3" cy="326.8" r="2.55" fill="#0000ff"/>
<circle cx="378.5" cy="366.8" r="2.55" fill="#0000ff"/>
<circle cx="385.8" cy="340.5" r="2.55" fill="#0000ff"/>
<circle cx="393.1" cy="309.5" r="2.55" fill="#0000ff"/>
<circle cx="400.3" cy="380.2" r="2.55" fill="#0000ff"/>
<circle cx="407.6" cy="392.7" r="2.55" fill="#0000ff"/>
<circle cx="414.9" cy="373.9" r="2.55" fill="#0000ff"/>
<circle cx="422.1" cy="331.1" r="2.55" fill="#0000ff"/>
<circle cx="429.4" cy="350.6" r="2.55" fill="#0000ff"/>
<circle cx="436.6" cy="386.7" r="2.55" fill="#0000ff"/>
<circle cx="443.9" cy="412.6" r="2.55" fill="#0000ff"/>
<circle cx="451.2" cy="390.7" r="2.55" fill="#0000ff"/>
<circle cx="458.4" cy="362.6" r="2.55" fill="#0000ff"/>
<circle cx="465.7" cy="378" r="2.55" fill="#0000ff"/>
<circle cx="473" cy="378" r="2.55" fill="#0000ff"/>
<circle cx="480.2" cy="369.7" r="2.55" fill="#0000ff"/>
<circle cx="487.5" cy="395.5" r="2.55" fill="#0000ff"/>
<circle cx="494.8" cy="418.3" r="2.55" fill="#0000ff"/>
<circle cx="502" cy="383" r="2.55" fill="#0000ff"/>
<circle cx="509.3" cy="414.5" r="2.55" fill="#0000ff"/>
<circle cx="516.6" cy="446" r="2.55" fill="#0000ff"/>
<circle cx="523.8" cy="424" r="2.55" fill="#0000ff"/>
<circle cx="531.1" cy="404.4" r="2.55" fill="#0000ff"/>
<circle cx="538.4" cy="361.9" r="2.55" fill="#0000ff"/>
<circle cx="545.6" cy="393.3" r="2.55" fill="#0000ff"/>
<circle cx="552.9" cy="384.3" r="2.55" fill="#0000ff"/>
<circle cx="560.2" cy="386.8" r="2.55" fill="#0000ff"/>
<circle cx="567.4" cy="406.7" r="2.55" fill="#0000ff"/>
<circle cx="574.7" cy="406.7" r="2.55" fill="#0000ff"/>
<circle cx="582" cy="413" r="2.55" fill="#0000ff"/>
<circle cx="589.2" cy="439.7" r="2.55" fill="#0000ff"/>
<circle cx="596.5" cy="453" r="2.55" fill="#0000ff"/>
<polyline points="349.5,294 356.7,307.2 364,319.6 371.3,330 378.5,339.3 385.8,347.6 393.1,354.5 400.3,361.1 407.6,367.3 414.9,373 422.1,377.7 429.4,381 436.6,383.3 443.9,383.6 451.2,380.1 458.4,373 465.7,364.7 473,359.6 480.2,362.1 487.5,369.2 494.8,382.6 502,396.5 509.3,407.2 516.6,410.4 523.8,408.2 531.1,402.4 538.4,391.7 545.6,385 552.9,384.6 560.2,391.7 567.4,404.3 574.7,416 582,426.1 589.2,433.7 596.5,438.1 603.7,441.5" fill="none" stroke="#ff0000" stroke-width="2.6" stroke-linejoin="round"/>
</g>
<text x="465.8" y="290.5" font-size="10.8" text-anchor="start" fill="#111" font-weight="normal" stroke="#111" stroke-width="0.25" >Q = 0.25 &#197;</text>
<text x="516.5" y="285.4" font-size="10.3" text-anchor="start" fill="#111" font-weight="normal" stroke="#111" stroke-width="0.25" >-1</text>
<circle cx="477.8" cy="300.4" r="2.7" fill="#0000ff"/>
<text x="492.3" y="303.4" font-size="10.4" text-anchor="start" fill="#111" font-weight="normal" stroke="#111" stroke-width="0.25" >300 K - 21 K</text>
<line x1="466.2" y1="313.5" x2="489.2" y2="313.5" stroke="#ff0000" stroke-width="2.6" stroke-linecap="round"/>
<text x="492.1" y="316.8" font-size="10.6" text-anchor="start" fill="#111" font-weight="normal" stroke="#111" stroke-width="0.25" >Model</text>
<text x="359.6" y="460.6" font-size="17.2" text-anchor="start" fill="#111" font-weight="normal" stroke="#111" stroke-width="0.25" >(d)</text>
</svg></body></html>
